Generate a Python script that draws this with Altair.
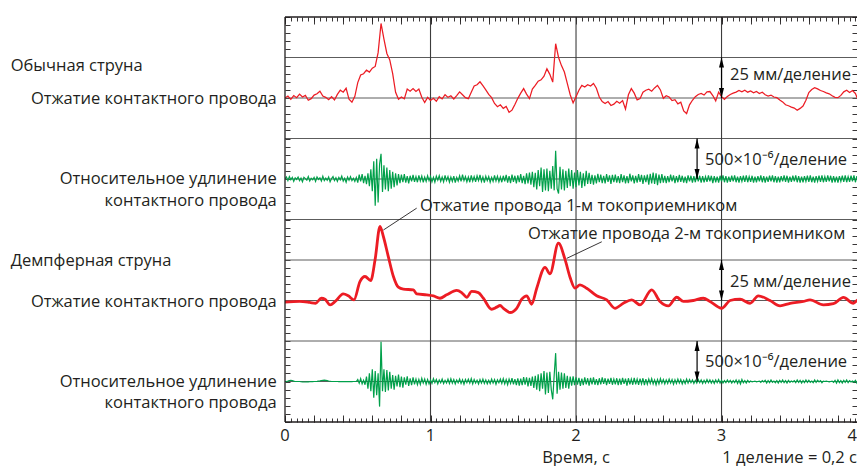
import altair as alt
import pandas as pd

# ---------------- data ----------------
# Обычная струна: отжатие, мм (sampled every 0.02 s)
RED1_DT = 0.02
RED1_MM = [
    0, 1.2, -0.8, 1.5, 0.2, 2.4, 0.6, 1.6, -1.4, -0.4,
    1.8, 2.6, 4.2, 1.2, 0.4, -1.0, 0.8, -1.2, 2.2, 4.8,
    3.6, 6.0, -0.8, -2.6, 1.0, 9.5, 14.2, 15.0, 17.2, 16.0,
    18.4, 19.5, 28.0, 46.0, 36.4, 27.5, 23.5, 15.0, 3.5, -0.8,
    0.6, -0.5, 5.5, 4.2, 5.8, 4.0, 5.5, 0.5, -2.8, 0.4,
    -1.5, -0.2, -2.0, 0.8, -0.6, 2.0, 0.4, 1.4, -0.6, 1.5,
    3.8, 2.0, 0.2, -0.4, 3.5, 7.4, 8.2, 10.0, 7.6, 5.0,
    2.2, 0.2, -3.4, -5.4, -4.2, -6.4, -5.2, -8.8, -7.5, -4.0,
    -0.2, 3.0, 5.8, 2.4, -0.4, 5.5, 7.8, 10.4, 11.2, 13.5,
    18.0, 14.6, 9.8, 33.5, 25.0, 20.0, 16.0, 9.0, 2.0, -3.0,
    0.8, 4.8, 7.8, 6.8, 8.2, 7.4, 9.0, 6.0, 0.6, -2.2,
    -3.4, -2.2, -4.6, -3.8, -2.0, -3.2, -1.6, -6.8, 2.0, 5.8,
    3.0, -1.2, -0.4, 3.6, 4.8, 5.4, 4.2, 6.2, 7.8, 5.0,
    -0.2, 1.4, 0.6, -1.6, -1.0, -3.6, -2.6, -8.0, -9.6, -4.2,
    -1.4, 0.8, 2.2, 2.8, 1.8, 3.8, 4.0, 1.5, -1.8, 3.6,
    0.8, -0.8, 1.0, 2.2, 3.0, 3.6, 4.6, 3.8, 4.8, 3.6,
    4.4, 3.2, 4.0, 2.8, 3.6, 2.0, 1.2, 1.8, 0.6, 0.2,
    -1.2, -2.4, -4.2, -4.8, -5.6, -6.2, -7.6, -6.4, -5.0, -1.4,
    3.4, 5.2, 6.4, 5.6, 4.6, 4.0, 3.2, 2.6, 1.4, 0.4,
    0.2, 1.6, 3.8, 4.8, 3.4, 4.6, 2.8, -1.6, -0.2, -0.6,
]

# Демпферная струна: отжатие, мм
RED2_T = [
    0.00, 0.10, 0.17, 0.21, 0.25, 0.275, 0.31, 0.345, 0.40, 0.435,
    0.474, 0.515, 0.55, 0.589, 0.619, 0.653, 0.676, 0.71, 0.745, 0.779,
    0.813, 0.882, 0.905, 0.974, 1.02, 1.065, 1.111, 1.18, 1.214, 1.249,
    1.283, 1.329, 1.363, 1.42, 1.455, 1.478, 1.501, 1.547, 1.592, 1.627,
    1.661, 1.695, 1.73, 1.787, 1.821, 1.879, 1.924, 1.96, 1.993, 2.027,
    2.073, 2.142, 2.211, 2.268, 2.325, 2.383, 2.44, 2.52, 2.577, 2.635,
    2.692, 2.738, 2.806, 2.875, 2.921, 3.001, 3.059, 3.127, 3.196, 3.253,
    3.333, 3.402, 3.471, 3.562, 3.608, 3.70, 3.769, 3.838, 3.906, 3.94,
    3.986,
]
RED2_MM = [
    -1.0, -0.6, -1.2, -1.7, 1.4, 0.8, -2.7, -0.6, 4.1, 2.9,
    0.4, 11.7, 14.8, 12.3, 25.1, 45.7, 39.5, 27.1, 14.8, 8.2,
    7.0, 6.6, 4.1, 3.5, 2.9, 1.4, 3.5, 6.2, 4.9, 2.0,
    5.6, 4.9, 1.4, -5.4, -4.1, -3.1, -4.8, -7.4, -4.8, 0.8,
    2.9, -2.3, 7.6, 20.5, 16.5, 35.4, 25.5, 14.0, 7.6, 9.7,
    7.6, 2.9, 0.4, -4.8, -1.7, 0.4, -2.7, 6.6, -0.6, -3.3,
    2.0, -0.6, 0.0, 1.4, -0.6, -4.8, 0.0, 0.8, -1.7, 2.9,
    0.0, -3.3, -1.7, -0.6, 0.4, -2.7, -2.0, 1.9, -1.7, 0.4,
    0.4,
]

# Относительное удлинение, x10^-6 (sampled every 0.01 s)
GREEN_DT = 0.01
GREEN1_UE = [
    0, 25, -20, 30, -10, 20, -30, 15, -5, 25,
    -20, 10, -35, 20, 5, -15, 30, -25, 10, -10,
    20, -30, 25, -5, 15, -25, 35, -20, 10, -15,
    25, -35, 5, 30, -20, 15, -30, 20, -10, 35,
    -25, 10, -40, 25, -15, 30, -20, 10, -30, 20,
    -45, 55, -30, 60, -50, 40, -65, 70, -90, 120,
    -150, 220, -330, 250, -290, 180, 310, -160, 170, -130,
    140, -150, 110, -120, 90, -100, 70, -80, 60, -50,
    55, -40, 60, -45, 35, -55, 40, -30, 50, -35,
    30, -40, 45, -25, 35, -40, 25, -30, 40, -20,
    30, -35, 20, -40, 35, -15, 40, -30, 25, -35,
    45, -20, 30, -40, 25, -30, 35, -45, 20, -25,
    40, -30, 55, -20, 30, -35, 25, -40, 45, -25,
    30, -35, 40, -20, 50, -30, 25, -45, 35, -20,
    30, -40, 20, -30, 45, -25, 35, -35, 25, -40,
    40, -30, 50, -45, 35, -50, 55, -35, 40, -55,
    45, -40, 60, -50, 40, -65, 70, -55, 80, -70,
    90, -100, 75, -130, 110, -90, 140, -160, 120, -140,
    130, -150, 100, -120, 160, -140, 350, -120, -180, 150,
    -130, 120, -140, 100, -110, 130, -90, 110, -120, 80,
    -100, 110, -80, 90, -110, 70, -90, 100, -60, 75,
    -60, 50, -70, 45, -55, 65, -40, 55, -50, 40,
    -55, 60, -35, 45, -60, 50, -40, 55, -45, 35,
    -50, 60, -40, 45, -55, 35, -50, 65, -30, 45,
    -55, 40, -45, 60, -35, 50, -60, 45, -40, 55,
    -70, 65, -55, 80, -60, 70, -75, 55, -50, 60,
    -45, 40, -50, 35, -40, 55, -30, 45, -50, 35,
    -40, 50, -35, 40, -45, 30, -50, 45, -30, 40,
    -45, 35, -40, 50, -30, 40, -45, 35, -40, 30,
    -35, 45, -30, 40, -50, 35, -40, 30, -45, 40,
    -30, 45, -40, 35, -45, 30, -35, 40, -30, 45,
    -40, 30, -45, 35, -30, 40, -35, 45, -40, 30,
    -35, 40, -45, 30, -40, 35, -30, 45, -40, 35,
    -45, 30, -35, 40, -30, 45, -40, 35, -45, 30,
    -40, 35, -30, 45, -35, 40, -45, 30, -35, 40,
    -30, 45, -40, 35, -45, 30, -40, 35, -30, 40,
    -35, 45, -40, 30, -45, 35, -30, 40, -35, 45,
    -40, 30, -35, 45, -30, 40, -45, 35, -40, 30,
    -45, 35, -30, 40, -35, 45, -40, 30, -35, 40,
    -30, 45, -40, 35, -45, 30, -35, 40, -30, 35,
]
GREEN2_UE = [
    0, 0, 5, 12, 15, 10, 4, 0, 0, 0,
    0, -3, -5, -6, -6, -5, -4, -3, -2, -1,
    0, 0, 2, 5, 8, 12, 15, 16, 14, 10,
    6, 3, 0, 0, 0, 0, 0, -1, -1, -1,
    -1, -1, -1, -1, -1, -1, -1, 0, 0, 0,
    25, -20, 35, -30, 15, -40, 60, -90, 100, -120,
    150, -200, 130, -170, 100, -310, 490, -120, 150, -130,
    140, -110, 120, -90, 80, -100, 70, -60, 85, -70,
    60, -75, 50, -40, 65, -55, 40, -45, 50, -35,
    30, -40, 25, -35, 40, -20, 30, -35, 25, -30,
    20, -25, 35, -15, 25, -30, 20, -15, 30, -25,
    15, -20, 30, -25, 35, -20, 25, -30, 20, -15,
    30, -25, 20, -35, 25, -15, 30, -20, 35, -30,
    25, -20, 15, -30, 25, -20, 30, -25, 20, -30,
    15, -25, 30, -20, 25, -35, 20, -15, 30, -25,
    35, -30, 25, -40, 30, -25, 40, -35, 30, -45,
    40, -50, 35, -45, 55, -40, 50, -60, 45, -55,
    60, -80, 70, -100, 90, -120, 100, -90, 130, -160,
    110, -140, 120, -100, -220, 80, 350, -150, 120, -100,
    110, -90, 100, -80, 70, -90, 60, -50, 65, -45,
    50, -40, 45, -55, 35, -45, 50, -35, 40, -50,
    45, -35, 50, -40, 30, -45, 40, -35, 50, -30,
    40, -45, 35, -30, 45, -40, 30, -35, 40, -45,
    35, -40, 45, -30, 35, -50, 40, -35, 30, -40,
    45, -35, 30, -40, 35, -30, 40, -45, 30, -35,
    30, -25, 35, -30, 20, -40, 25, -30, 35, -20,
    25, -30, 20, -25, 30, -20, 25, -35, 20, -25,
    30, -20, 25, -30, 15, -25, 30, -20, 25, -15,
    20, -25, 15, -20, 25, -15, 20, -25, 15, -20,
    25, -15, 20, -20, 15, -25, 20, -15, 25, -20,
    15, -20, 10, -15, 20, -10, 15, -20, 10, -15,
    20, -25, 15, -30, 25, -15, 10, -20, 15, -10,
    5, -5, 0, 5, -5, 0, 5, -10, 10, -5,
    15, -20, 10, -15, 20, -10, 5, -15, 10, -20,
    15, -10, 20, -15, 10, -20, 15, -10, 5, -5,
    10, -15, 20, -10, 15, -20, 10, -15, 20, -10,
    15, -10, 5, -15, 20, -10, 15, -5, 10, -15,
    5, 0, 5, 0, -5, 0, 5, -10, 15, -20,
    20, -15, 10, -20, 15, -10, 20, -15, 10, -5,
    5, -10, 15, -20, 10, -15, 20, -10, 15, -5,
]

MM_PER_DIV = 25
UE_PER_DIV = 500

# grid / ticks (time in s, vertical in divisions)
GRID_T = [1, 2, 3]
GRID_D = [1, 2, 3, 4, 5, 6, 7, 8, 9]
BORDER_D = [0, 10]
MINOR_T = [round(i * 0.04, 2) for i in range(100)]
MAJOR_T = [round(i * 0.2, 1) for i in range(20)]
MINOR_D = [round(i * 0.2, 1) for i in range(51)]

X_MAX = 3.931          # visible part of the 0..4 s time axis
RED = "#ec1c24"
GREEN = "#00a04a"
INK = "#231f20"
FONT = "Open Sans"
FS = 16.5

XS = alt.Scale(domain=[0, X_MAX], nice=False, zero=False)
YS = alt.Scale(domain=[0, 10], nice=False, zero=False)


def xaxis(orient, values, size):
    return alt.Axis(orient=orient, values=values, tickSize=size, offset=-size,
                    labels=False, domain=False, grid=False, title=None,
                    tickColor=INK, tickWidth=0.9)


def yaxis(orient, values, size):
    return alt.Axis(orient=orient, values=values, tickSize=size, offset=-size,
                    labels=False, domain=False, grid=False, title=None,
                    tickColor=INK, tickWidth=0.9)


red1 = pd.DataFrame({"t": [round(i * RED1_DT, 3) for i in range(len(RED1_MM))], "v": RED1_MM})
red2 = pd.DataFrame({"t": RED2_T, "v": RED2_MM})
green1 = pd.DataFrame({"t": [round(i * GREEN_DT, 3) for i in range(len(GREEN1_UE))], "v": GREEN1_UE})
green2 = pd.DataFrame({"t": [round(i * GREEN_DT, 3) for i in range(len(GREEN2_UE))], "v": GREEN2_UE})

grid_h = alt.Chart(pd.DataFrame({"d": GRID_D})).mark_rule(
    color="#5c5c5c", strokeWidth=1).encode(y=alt.Y("d:Q", scale=YS, axis=None))
grid_v = alt.Chart(pd.DataFrame({"t": GRID_T})).mark_rule(
    color="#3c3c3c", strokeWidth=1.1).encode(x=alt.X("t:Q", scale=XS, axis=None))
border_h = alt.Chart(pd.DataFrame({"d": BORDER_D})).mark_rule(
    color=INK, strokeWidth=1.3).encode(y=alt.Y("d:Q", scale=YS, axis=None))
border_v = alt.Chart(pd.DataFrame({"t": [0]})).mark_rule(
    color=INK, strokeWidth=1.3).encode(x=alt.X("t:Q", scale=XS, axis=None))

red1_line = alt.Chart(red1).transform_calculate(
    y=f"8 + datum.v / {MM_PER_DIV}").mark_line(
    color=RED, strokeWidth=1.25, clip=True).encode(
    x=alt.X("t:Q", scale=XS, axis=xaxis("bottom", MINOR_T, 4)),
    y=alt.Y("y:Q", scale=YS, axis=yaxis("left", MINOR_D, 5)))

green1_line = alt.Chart(green1).transform_calculate(
    y=f"6 + datum.v / {UE_PER_DIV}").mark_line(
    color=GREEN, strokeWidth=1.2, clip=True).encode(
    x=alt.X("t:Q", scale=XS, axis=xaxis("top", MINOR_T, 4)),
    y=alt.Y("y:Q", scale=YS, axis=yaxis("right", MINOR_D, 5)))

red2_line = alt.Chart(red2).transform_calculate(
    y=f"3 + datum.v / {MM_PER_DIV}").mark_line(
    color=RED, strokeWidth=2.8, clip=True, interpolate="monotone").encode(
    x=alt.X("t:Q", scale=XS, axis=xaxis("bottom", MAJOR_T, 7)),
    y=alt.Y("y:Q", scale=YS, axis=None))

green2_line = alt.Chart(green2).transform_calculate(
    y=f"1 + datum.v / {UE_PER_DIV}").mark_line(
    color=GREEN, strokeWidth=1.2, clip=True).encode(
    x=alt.X("t:Q", scale=XS, axis=xaxis("top", MAJOR_T, 7)),
    y=alt.Y("y:Q", scale=YS, axis=None))

# ---- annotations ----
LEFT_TEXT = ["Обычная струна", "Демпферная струна",
             "Отжатие провода 1-м токоприемником", "Отжатие провода 2-м токоприемником",
             "25 мм/деление", "500×10⁻⁶/деление", "25 мм/деление", "500×10⁻⁶/деление",
             "1 деление = 0,2 с"]
LEFT_T = [-1.885, -1.885, 0.928, 1.67, 3.058, 2.887, 3.058, 2.887, 3.005]
LEFT_D = [8.67, 3.86, 5.22, 4.51, 8.44, 6.35, 3.33, 1.35, -1.0]

RIGHT_TEXT = ["Отжатие контактного провода", "Относительное удлинение", "контактного провода",
              "Отжатие контактного провода", "Относительное удлинение", "контактного провода",
              "4"]
RIGHT_T = [-0.057] * 6 + [X_MAX]
RIGHT_D = [7.84, 5.88, 5.34, 2.85, 0.87, 0.34, -0.47]

CENTER_TEXT = ["0", "1", "2", "3", "Время, с"]
CENTER_T = [0, 1, 2, 3, 2.0]
CENTER_D = [-0.47] * 4 + [-1.0]

LEADER = pd.DataFrame({"t": [0.905, 2.177], "d": [5.28, 4.45], "t2": [0.676, 1.936], "d2": [4.74, 4.04]})
ARROWS = pd.DataFrame({"t": [3.0, 2.832, 3.0, 2.832], "top": [9, 7, 4, 2], "bot": [8, 6, 3, 1]})


def text_layer(texts, ts, ds, align):
    df = pd.DataFrame({"t": ts, "d": ds, "s": texts})
    return alt.Chart(df).mark_text(align=align, baseline="alphabetic", font=FONT,
                                   fontSize=FS, color=INK).encode(
        x=alt.X("t:Q", scale=XS, axis=None), y=alt.Y("d:Q", scale=YS, axis=None), text="s:N")


leader = alt.Chart(LEADER).mark_rule(color=INK, strokeWidth=0.9).encode(
    x=alt.X("t:Q", scale=XS, axis=None), y=alt.Y("d:Q", scale=YS, axis=None), x2="t2:Q", y2="d2:Q")
arrow_shaft = alt.Chart(ARROWS).mark_rule(color="black", strokeWidth=1.2).encode(
    x=alt.X("t:Q", scale=XS, axis=None), y=alt.Y("top:Q", scale=YS, axis=None), y2="bot:Q")
arrow_up = alt.Chart(ARROWS).mark_point(shape="M0,0L0.5,2L-0.5,2Z", size=100, filled=True,
                                        color="black", opacity=1, strokeWidth=0).encode(
    x=alt.X("t:Q", scale=XS, axis=None), y=alt.Y("top:Q", scale=YS, axis=None))
arrow_down = alt.Chart(ARROWS).mark_point(shape="M0,0L0.5,-2L-0.5,-2Z", size=100, filled=True,
                                          color="black", opacity=1, strokeWidth=0).encode(
    x=alt.X("t:Q", scale=XS, axis=None), y=alt.Y("bot:Q", scale=YS, axis=None))

chart = alt.layer(
    grid_h, grid_v, red1_line, green1_line, red2_line, green2_line,
    border_h, border_v,
    leader, arrow_shaft, arrow_up, arrow_down,
    text_layer(LEFT_TEXT, LEFT_T, LEFT_D, "left"),
    text_layer(RIGHT_TEXT, RIGHT_T, RIGHT_D, "right"),
    text_layer(CENTER_TEXT, CENTER_T, CENTER_D, "center"),
).resolve_axis(x="independent", y="independent").properties(
    width=572, height=405,
    autosize=alt.AutoSizeParams(type="none"),
    padding={"left": 277, "top": 9, "right": 0, "bottom": 44},
    background="white",
).configure_view(stroke=None)

chart.save("out.html", embed_options={"renderer": "svg", "actions": False})
